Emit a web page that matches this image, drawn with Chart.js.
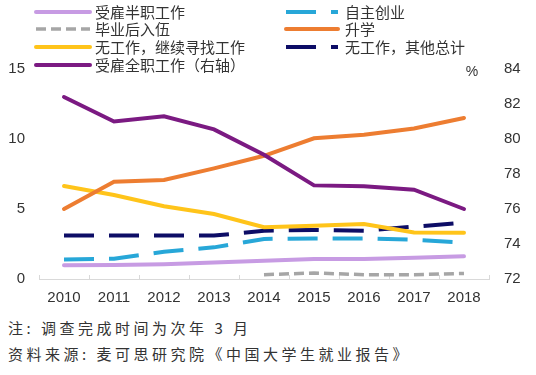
<!DOCTYPE html>
<html>
<head>
<meta charset="utf-8">
<script src="https://cdn.jsdelivr.net/npm/chart.js@4"></script>
<style>
  body { margin: 0; background: #fff; }
  #wrap { position: relative; width: 536px; height: 375px; overflow: hidden; }
  #chart { position: absolute; left: 0; top: 0; }
  .note { position: absolute; left: 8px; font: 15px "Noto Sans CJK SC", sans-serif; color: #333; letter-spacing: 3.5px; line-height: 18px; white-space: nowrap; }
</style>
</head>
<body>
<div id="wrap">
  <canvas id="chart" width="536" height="310"></canvas>
  <div class="note" style="top:319px">注: 调查完成时间为次年 3 月</div>
  <div class="note" style="top:345px">资料来源: 麦可思研究院《中国大学生就业报告》</div>
</div>
<script>
const years = ['2010', '2011', '2012', '2013', '2014', '2015', '2016', '2017', '2018'];

// 左轴 (%)
const partTime = [0.98, 1.0, 1.05, 1.17, 1.31, 1.43, 1.43, 1.52, 1.62];
const selfEmployed = [1.4, 1.45, 1.95, 2.26, 2.86, 2.9, 2.9, 2.8, 2.6];
const military = [null, null, null, null, 0.31, 0.43, 0.31, 0.31, 0.4];
const furtherStudy = [5.0, 6.95, 7.07, 7.9, 8.8, 10.05, 10.3, 10.75, 11.5];
const seeking = [6.64, 6.0, 5.2, 4.64, 3.7, 3.8, 3.93, 3.33, 3.3];
const otherJobless = [3.1, 3.1, 3.1, 3.1, 3.45, 3.5, 3.45, 3.74, 4.02];
// 右轴 (%)
const fullTime = [82.4, 81.0, 81.3, 80.55, 79.1, 77.35, 77.3, 77.1, 76.0];

const leftTicks = [0, 5, 10, 15];
const rightTicks = [72, 74, 76, 78, 80, 82, 84];

function line(label, data, color, dash, axis, col, row) {
    return {
        label: label,
        data: data,
        borderColor: color,
        backgroundColor: color,
        borderWidth: dash.length && dash[0] < 15 ? 3.5 : 4,
        borderDash: dash,
        borderCapStyle: dash.length ? 'butt' : 'round',
        pointRadius: 0,
        tension: 0,
        fill: false,
        yAxisID: axis,
        legendCol: col,
        legendRow: row
    };
}

// 自己画两列图例
const legendCols = {
    id: 'legendCols',
    afterDraw(chart) {
        const ctx = chart.ctx;
        const colX = [[36, 90, 95], [286, 338, 345]];
        const rowY = [12, 29, 47, 65];
        ctx.save();
        chart.data.datasets.forEach(ds => {
            const c = colX[ds.legendCol];
            const y = rowY[ds.legendRow];
            ctx.strokeStyle = ds.borderColor;
            ctx.lineWidth = ds.borderWidth;
            ctx.setLineDash(ds.borderDash);
            ctx.lineCap = ds.borderCapStyle;
            ctx.beginPath();
            ctx.moveTo(c[0], y);
            ctx.lineTo(c[1], y);
            ctx.stroke();
            ctx.setLineDash([]);
            ctx.fillStyle = '#333';
            ctx.font = '15px "Noto Sans CJK SC", sans-serif';
            ctx.textBaseline = 'middle';
            ctx.textAlign = 'left';
            ctx.fillText(ds.label, c[2], y);
        });
        // % 单位
        ctx.font = '14px "Liberation Sans", Arial, sans-serif';
        ctx.textAlign = 'center';
        ctx.fillText('%', chart.chartArea.right - 17, chart.chartArea.top + 3);
        ctx.restore();
    }
};

new Chart(document.getElementById('chart'), {
    type: 'line',
    data: {
        labels: years,
        datasets: [
            line('受雇全职工作（右轴）', fullTime, '#7b1a82', [], 'y1', 0, 3),
            line('升学', furtherStudy, '#ed7d31', [], 'y', 1, 1),
            line('无工作，继续寻找工作', seeking, '#ffc41a', [], 'y', 0, 2),
            line('无工作，其他总计', otherJobless, '#0d0d66', [30, 15], 'y', 1, 2),
            line('自主创业', selfEmployed, '#27a7d8', [30, 15], 'y', 1, 0),
            line('受雇半职工作', partTime, '#c79be3', [], 'y', 0, 0),
            line('毕业后入伍', military, '#a6a6a6', [10, 5], 'y', 0, 1)
        ]
    },
    options: {
        responsive: false,
        animation: false,
        spanGaps: false,
        layout: { padding: { top: 69, left: 0, right: 0, bottom: 0 } },
        plugins: {
            legend: { display: false },
            tooltip: { enabled: false }
        },
        scales: {
            x: {
                offset: true,
                afterFit: scale => { scale.height = 31; },
                border: { display: true, color: '#d9d9d9', width: 1 },
                grid: {
                    offset: true,
                    drawOnChartArea: false,
                    drawTicks: true,
                    tickLength: -4,
                    color: '#d9d9d9'
                },
                ticks: {
                    color: '#333',
                    padding: 14,
                    maxRotation: 0,
                    font: { family: '"Liberation Sans", Arial, sans-serif', size: 15 }
                }
            },
            y: {
                position: 'left',
                min: 0,
                max: 15,
                afterFit: scale => { scale.width = 39; },
                afterBuildTicks: scale => { scale.ticks = leftTicks.map(v => ({ value: v })); },
                border: { display: false },
                grid: { display: false, drawTicks: false, tickLength: 0 },
                ticks: {
                    color: '#333',
                    padding: 14,
                    font: { family: '"Liberation Sans", Arial, sans-serif', size: 15 }
                }
            },
            y1: {
                position: 'right',
                min: 72,
                max: 84,
                afterFit: scale => { scale.width = 47; },
                afterBuildTicks: scale => { scale.ticks = rightTicks.map(v => ({ value: v })); },
                border: { display: false },
                grid: { display: false, drawTicks: false, tickLength: 0 },
                ticks: {
                    color: '#333',
                    padding: 15,
                    font: { family: '"Liberation Sans", Arial, sans-serif', size: 15 }
                }
            }
        }
    },
    plugins: [legendCols]
});
</script>
</body>
</html>
